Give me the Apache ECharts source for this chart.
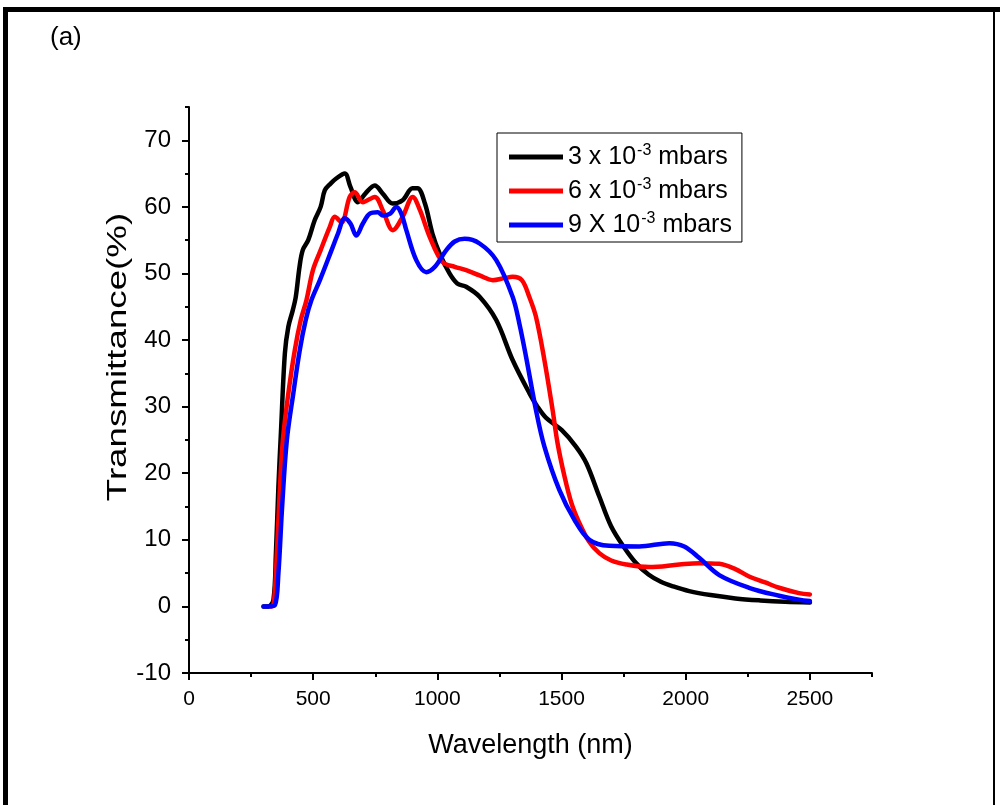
<!DOCTYPE html>
<html>
<head>
<meta charset="utf-8">
<script src="https://cdn.jsdelivr.net/npm/echarts@6/dist/echarts.min.js"></script>
<style>
html,body{margin:0;padding:0;background:#fff;}
#c{width:1000px;height:805px;}
</style>
</head>
<body>
<div id="c"></div>
<script>
// ---- data ----
const seriesNames = ['3 x 10^-3 mbars', '6 x 10^-3 mbars', '9 X 10^-3 mbars'];
const seriesColors = ['#000000', '#ff0000', '#0000ff'];

const blackX = [300, 320, 340, 350, 360, 370, 386, 400, 418, 430, 445, 458, 480, 506, 530, 547, 570, 594, 627, 650, 680, 710, 748, 780, 820, 860, 900, 920, 950, 980, 1009, 1049, 1080, 1116, 1170, 1237, 1303, 1371, 1403, 1438, 1500, 1558, 1600, 1652, 1700, 1753, 1800, 1850, 1900, 1950, 2014, 2100, 2200, 2300, 2400, 2500];
const blackY = [0, 0, 1, 8, 18, 26, 38, 42, 44.5, 46.5, 51, 53.5, 55, 58, 60, 62.5, 63.5, 64.3, 65, 63, 60.7, 62, 63.2, 62, 60.5, 61, 62.8, 62.8, 60.5, 56, 53, 50, 48.5, 48, 46.5, 43, 37, 32, 30, 28.3, 26.5, 24, 21.5, 16.5, 12, 8.8, 6.5, 4.8, 3.7, 3, 2.3, 1.7, 1.2, 0.9, 0.7, 0.6];

const redX = [330, 340, 350, 365, 378, 400, 426, 450, 473, 499, 530, 567, 587, 614, 647, 667, 700, 748, 780, 821, 860, 901, 930, 969, 1021, 1070, 1116, 1170, 1223, 1270, 1303, 1340, 1370, 1397, 1431, 1464, 1484, 1512, 1540, 1572, 1610, 1652, 1700, 1760, 1853, 1974, 2054, 2135, 2200, 2255, 2320, 2376, 2456, 2500];
const redY = [0, 0.2, 5, 17, 25, 32, 38.5, 43, 46, 50.5, 53.5, 57, 58.5, 57.7, 61.5, 62.2, 60.7, 61.5, 59.5, 56.5, 58.5, 61.5, 59.5, 55.5, 51.7, 51, 50.5, 49.7, 49, 49.3, 49.5, 49, 46.5, 43.5, 37, 29.5, 24.5, 19.5, 15.5, 12.5, 9.8, 8, 6.9, 6.3, 5.9, 6.3, 6.5, 6.4, 5.6, 4.5, 3.6, 2.8, 2.0, 1.8];

const blueX = [300, 320, 346, 360, 375, 394, 420, 446, 470, 493, 527, 574, 600, 627, 650, 674, 700, 728, 760, 781, 810, 835, 855, 875, 915, 955, 990, 1036, 1070, 1110, 1170, 1237, 1303, 1330, 1357, 1397, 1431, 1491, 1552, 1612, 1692, 1813, 1934, 1994, 2054, 2135, 2255, 2376, 2456, 2500];
const blueY = [0, 0, 0.2, 5, 15, 25, 32, 38.5, 43, 46, 49, 53.5, 56, 58.3, 57.5, 55.7, 57.5, 59, 59.2, 58.7, 59, 60, 59, 56.5, 52, 50.2, 51, 53.5, 54.8, 55.2, 54.5, 52, 46.5, 42.5, 37.5, 29.5, 24, 17.5, 13, 10, 9.1, 9, 9.5, 9, 7.3, 4.7, 2.8, 1.6, 1.0, 0.8];

const xMajorTicks = [0, 500, 1000, 1500, 2000, 2500];
const xMinorTicks = [250, 750, 1250, 1750, 2250, 2750];
const yMajorTicks = [-10, 0, 10, 20, 30, 40, 50, 60, 70];
const yMinorTicks = [-5, 5, 15, 25, 35, 45, 55, 65, 75];

const xTitle = 'Wavelength (nm)';
const yTitle = 'Transmittance(%)';
const panelLabel = '(a)';

// ---- chart ----
const FONT = 'Liberation Sans, Arial, sans-serif';
function pairs(xs, ys) { return xs.map((x, i) => [x, ys[i]]); }
const dataSets = [pairs(blackX, blackY), pairs(redX, redY), pairs(blueX, blueY)];

const chart = echarts.init(document.getElementById('c'), null, { renderer: 'canvas' });

const axisLineStyle = { color: '#000', width: 2 };
const plain = v => String(v);

const option = {
  backgroundColor: '#ffffff',
  animation: false,
  grid: { left: 189, right: 128, top: 107, bottom: 132, containLabel: false },
  xAxis: [
    {
      type: 'value', min: 0, max: 2750, position: 'bottom',
      axisLine: { show: true, onZero: false, lineStyle: axisLineStyle },
      axisTick: { show: true, inside: false, length: 4, customValues: xMinorTicks, lineStyle: { color: '#000', width: 2 } },
      axisLabel: { show: true, customValues: xMajorTicks, formatter: plain, color: '#000', fontSize: 21, fontFamily: FONT, margin: 16 },
      splitLine: { show: false },
      name: xTitle, nameLocation: 'middle', nameGap: 59,
      nameTextStyle: { color: '#000', fontSize: 27, fontFamily: FONT }
    },
    {
      type: 'value', min: 0, max: 2750, position: 'bottom', offset: 0,
      axisLine: { show: false, onZero: false },
      axisTick: { show: true, inside: false, length: 7, customValues: xMajorTicks, lineStyle: { color: '#000', width: 2 } },
      axisLabel: { show: false },
      splitLine: { show: false }
    }
  ],
  yAxis: [
    {
      type: 'value', min: -10, max: 75, position: 'left',
      axisLine: { show: true, onZero: false, lineStyle: axisLineStyle },
      axisTick: { show: true, inside: false, length: 4, customValues: yMinorTicks, lineStyle: { color: '#000', width: 2 } },
      axisLabel: { show: true, customValues: yMajorTicks, formatter: plain, color: '#000', fontSize: 24, fontFamily: FONT, margin: 18 },
      splitLine: { show: false }
    },
    {
      type: 'value', min: -10, max: 75, position: 'left', offset: 0,
      axisLine: { show: false, onZero: false },
      axisTick: { show: true, inside: false, length: 7, customValues: yMajorTicks, lineStyle: { color: '#000', width: 2 } },
      axisLabel: { show: false },
      splitLine: { show: false }
    }
  ],
  legend: {
    orient: 'vertical', left: 497, top: 133,
    padding: [10, 10, 3, 12], itemGap: 6,
    itemWidth: 54, itemHeight: 5, icon: 'rect',
    borderColor: '#000', borderWidth: 1, backgroundColor: '#fff',
    data: seriesNames,
    formatter: function (name) { return name.replace('^-3', '{s|-3}'); },
    textStyle: {
      color: '#000', fontSize: 25, fontFamily: FONT, lineHeight: 28,
      rich: { s: { fontSize: 16, fontFamily: FONT, color: '#000', verticalAlign: 'top', lineHeight: 16, padding: [0, 0, 0, 1] } }
    }
  },
  series: seriesNames.map((n, i) => ({
    name: n, type: 'line', xAxisIndex: 0, yAxisIndex: 0,
    data: dataSets[i], smooth: 0.35, showSymbol: false, symbol: 'none',
    lineStyle: { color: seriesColors[i], width: 4.5, cap: 'round', join: 'round' },
    itemStyle: { color: seriesColors[i] },
    z: 2 + i
  })),
  graphic: [
    { type: 'rect', shape: { x: 4, y: 7, width: 996, height: 5 }, style: { fill: '#000' }, silent: true },
    { type: 'rect', shape: { x: 3, y: 7, width: 5, height: 798 }, style: { fill: '#000' }, silent: true },
    { type: 'rect', shape: { x: 993, y: 7, width: 2, height: 798 }, style: { fill: '#000' }, silent: true },
    { type: 'text', left: 50, top: 25, style: { text: panelLabel, fontSize: 26, fontFamily: FONT, fill: '#000' } },
    { type: 'text', x: 119, y: 357, rotation: Math.PI / 2, scaleX: 1.36, scaleY: 1,
      style: { text: yTitle, fontSize: 27, fontFamily: FONT, fill: '#000', textAlign: 'center', textVerticalAlign: 'middle' } }
  ]
};
chart.setOption(option);
</script>
</body>
</html>
